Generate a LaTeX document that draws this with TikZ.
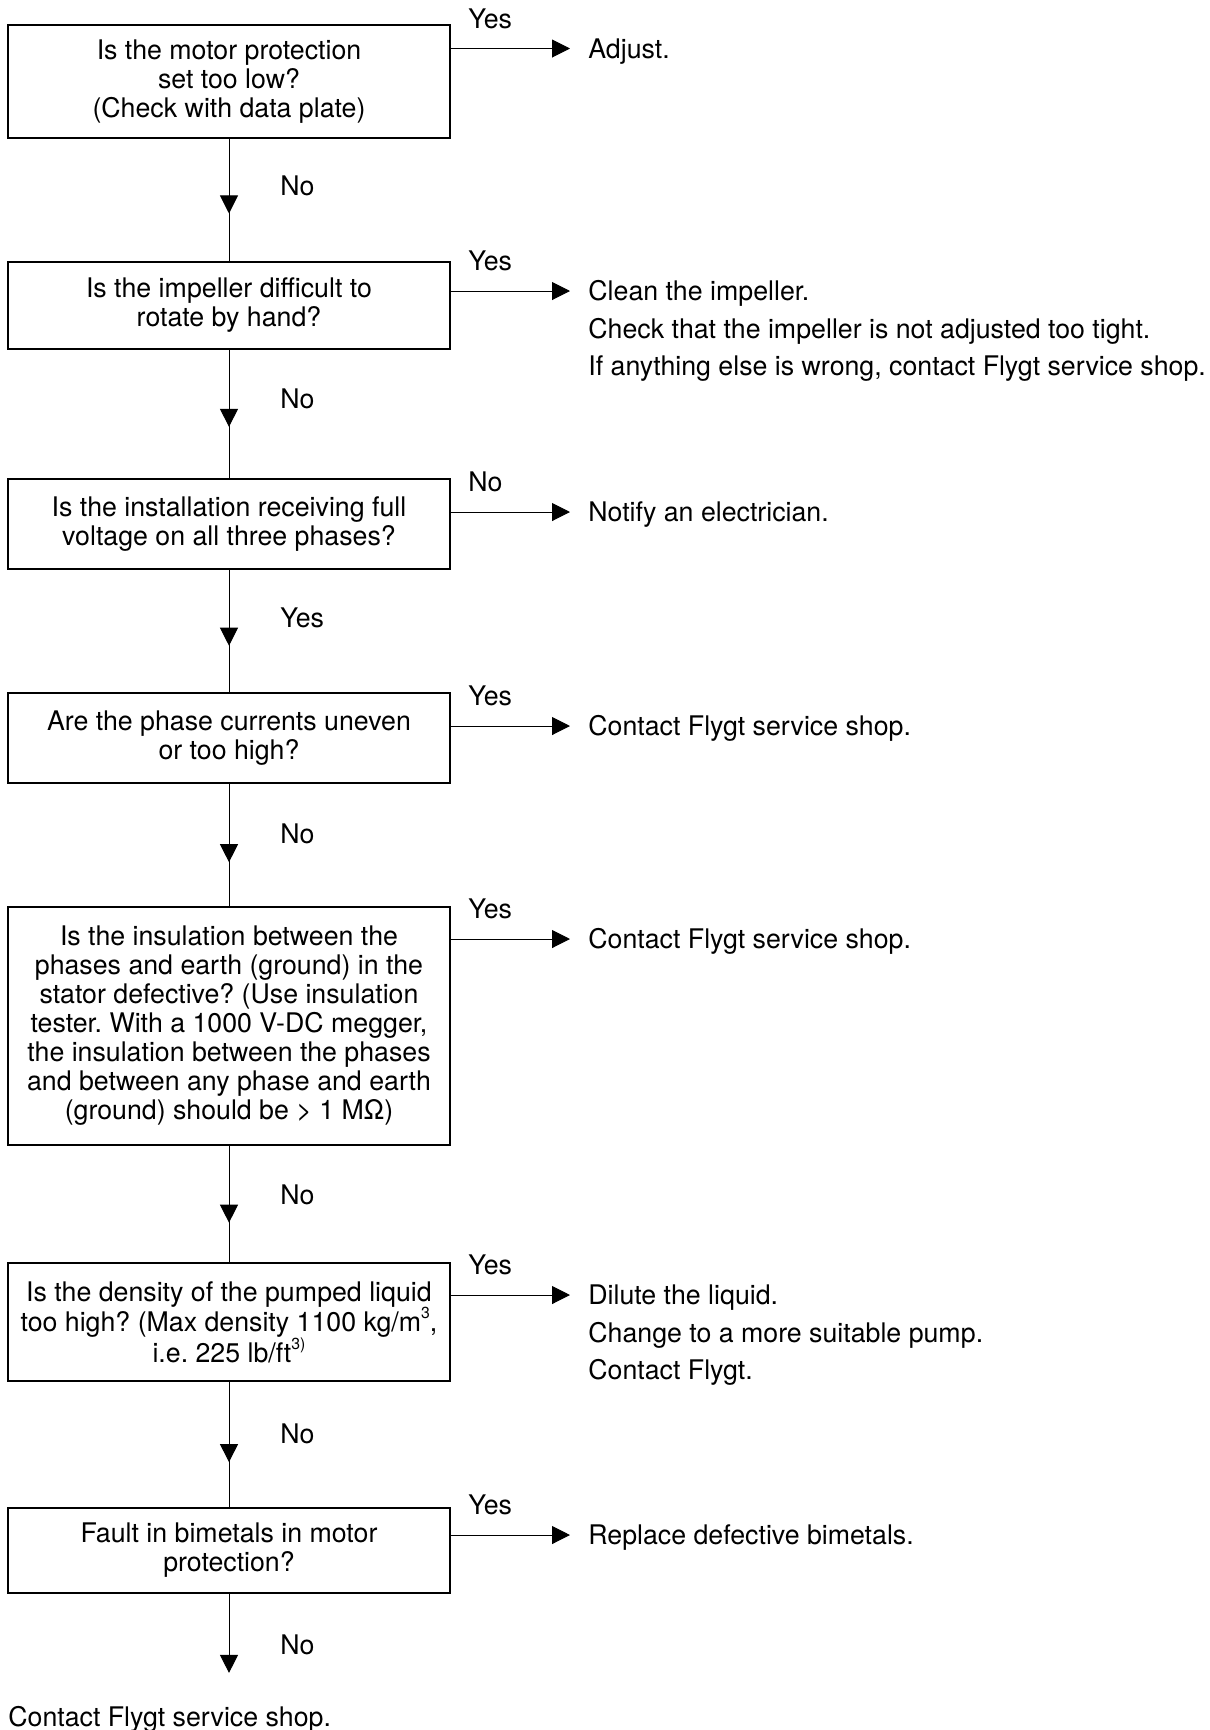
\documentclass[tikz,border=0pt]{standalone}
\usepackage{fontspec}
\setmainfont{TeX Gyre Heros}[FakeStretch=0.99]
\usetikzlibrary{arrows.meta,decorations.markings}
\frenchspacing
\newcommand\flfont{\fontsize{13.5pt}{14.5pt}\selectfont\lineskiplimit=-\maxdimen}
\newcommand\flfontb{\fontsize{13.5pt}{15.3pt}\selectfont\lineskiplimit=-\maxdimen}
\newcommand\supr[1]{\raisebox{0.9ex}{\fontsize{8pt}{8pt}\selectfont #1}}
\begin{document}
\begin{tikzpicture}[x=0.5pt,y=-0.5pt,
  box/.style={draw, line width=0.7pt, minimum width=221pt, align=center, inner sep=2pt, font=\flfont},
  lab/.style={anchor=west, inner sep=0pt, text height=9.7pt, text depth=0pt, font=\flfont},
  harr/.style={draw, line width=0.5pt, -{Triangle[length=9pt,width=9pt]}, shorten >=9pt},
  vflow/.style={draw, line width=0.5pt, postaction={decorate},
    decoration={markings, mark=at position #1 with {\arrow{Triangle[length=9pt,width=9pt]}}}},
  vflow/.default=0.62]
\useasboundingbox[fill=white] (0,0) rectangle (1210,1730);

% decision boxes
\node[box, minimum height=56.5pt] (b1) at (229,81.5) {Is the motor protection\\set too low?\\(Check with data plate)};
\node[box, minimum height=43.5pt] (b2) at (229,305.5) {Is the impeller difficult to\\rotate by hand?};
\node[box, minimum height=45pt] (b3) at (229,524) {Is the installation receiving full\\voltage on all three phases?};
\node[box, minimum height=45pt] (b4) at (229,738) {Are the phase currents uneven\\or too high?};
\node[box, minimum height=119pt] (b5) at (229,1026) {Is the insulation between the\\phases and earth (ground) in the\\stator defective? (Use insulation\\tester. With a 1000 V-DC megger,\\the insulation between the phases\\and between any phase and earth\\(ground) should be > 1 MΩ)};
\node[box, minimum height=59pt, font=\flfontb] (b6) at (229,1322) {Is the density of the pumped liquid\\too high? (Max density 1100 kg/m\supr{3},\\i.e. 225 lb/ft\supr{3)}};
\node[box, minimum height=42.5pt] (b7) at (229,1550.5) {Fault in bimetals in motor\\protection?};

% actions
\node[lab] (a1) at (588,48.5) {Adjust.};
\node[lab] (a2) at (588,291) {Clean the impeller.};
\node[lab] (a2b) at (588,328.5) {Check that the impeller is not adjusted too tight.};
\node[lab] (a2c) at (588,366) {If anything else is wrong, contact Flygt service shop.};
\node[lab] (a3) at (588,512) {Notify an electrician.};
\node[lab] (a4) at (588,726) {Contact Flygt service shop.};
\node[lab] (a5) at (588,939) {Contact Flygt service shop.};
\node[lab] (a6) at (588,1295) {Dilute the liquid.};
\node[lab] (a6b) at (588,1332.5) {Change to a more suitable pump.};
\node[lab] (a6c) at (588,1370) {Contact Flygt.};
\node[lab] (a7) at (588,1535) {Replace defective bimetals.};
\node[lab] (fin) at (8,1717) {Contact Flygt service shop.};

% horizontal answer labels
\node[lab] (h1) at (468,18.5) {Yes};
\node[lab] (h2) at (468,261) {Yes};
\node[lab] (h3) at (468,482) {No};
\node[lab] (h4) at (468,696) {Yes};
\node[lab] (h5) at (468,909) {Yes};
\node[lab] (h6) at (468,1265) {Yes};
\node[lab] (h7) at (468,1505) {Yes};

% vertical answer labels
\node[lab] (v1) at (280,186) {No};
\node[lab] (v2) at (280,399) {No};
\node[lab] (v3) at (280,618) {Yes};
\node[lab] (v4) at (280,834) {No};
\node[lab] (v5) at (280,1195) {No};
\node[lab] (v6) at (280,1434) {No};
\node[lab] (v7) at (280,1645) {No};

% horizontal connectors
\draw[harr] (b1.east |- a1.west) -- (a1.west);
\draw[harr] (b2.east |- a2.west) -- (a2.west);
\draw[harr] (b3.east |- a3.west) -- (a3.west);
\draw[harr] (b4.east |- a4.west) -- (a4.west);
\draw[harr] (b5.east |- a5.west) -- (a5.west);
\draw[harr] (b6.east |- a6.west) -- (a6.west);
\draw[harr] (b7.east |- a7.west) -- (a7.west);

% vertical connectors
\draw[vflow=0.61] (b1) -- (b2);
\draw[vflow=0.60] (b2) -- (b3);
\draw[vflow=0.62] (b3) -- (b4);
\draw[vflow=0.64] (b4) -- (b5);
\draw[vflow=0.66] (b5) -- (b6);
\draw[vflow=0.64] (b6) -- (b7);
\draw[line width=0.5pt, -{Triangle[length=9pt,width=9pt]}, shorten >=17pt] (b7.south) -- (b7.south |- fin.north);
\end{tikzpicture}
\end{document}
